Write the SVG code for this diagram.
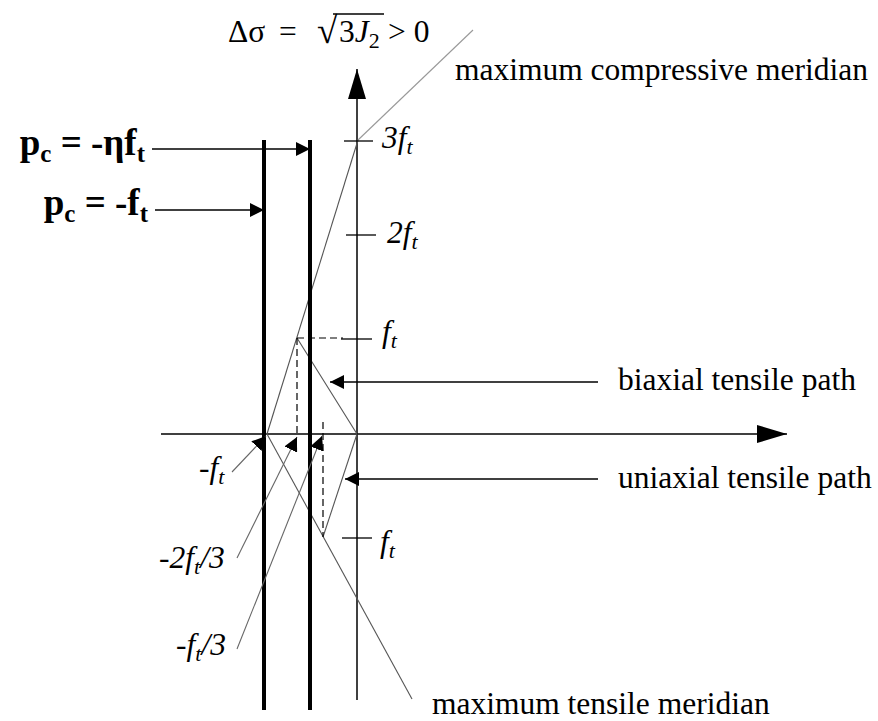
<svg xmlns="http://www.w3.org/2000/svg" width="878" height="721" viewBox="0 0 878 721">
<defs>
<style>
.t{font-family:"Liberation Serif","Times New Roman",serif;font-size:31.5px;fill:#000}
.i{font-style:italic}
.b{font-family:"Liberation Serif","Times New Roman",serif;font-weight:bold;font-size:37px;fill:#000}
.ax{stroke:#000;stroke-width:1.5;fill:none}
.thick{stroke:#000;stroke-width:4;fill:none}
.mer{stroke:#555;stroke-width:1.1;fill:none}
.mer2{stroke:#999;stroke-width:1.1;fill:none}
.lead{stroke:#666;stroke-width:1.1;fill:none}
.dash{stroke:#000;stroke-width:1.2;stroke-dasharray:7 4;fill:none}
.tick{stroke:#000;stroke-width:1.3;fill:none}
</style>
<marker id="big" markerUnits="userSpaceOnUse" markerWidth="30" markerHeight="18" refX="30" refY="9" orient="auto"><path d="M0,0 L30,9 L0,18 z" fill="#000"/></marker>
<marker id="sm" markerUnits="userSpaceOnUse" markerWidth="14" markerHeight="14" refX="14" refY="7" orient="auto"><path d="M0,0 L14,7 L0,14 z" fill="#000"/></marker>
</defs>
<rect width="878" height="721" fill="#fff"/>

<g id="connectors">
<line class="ax" x1="357" y1="700" x2="357" y2="69" marker-end="url(#big)"/>
<line class="ax" x1="161" y1="434" x2="787" y2="434" marker-end="url(#big)"/>
<line class="mer2" x1="358" y1="140" x2="473" y2="30"/>
<line class="mer" x1="358" y1="140" x2="267" y2="434"/>
<line class="mer" x1="267" y1="434" x2="412" y2="699"/>
<line class="mer" x1="297" y1="338" x2="357" y2="434"/>
<line class="mer" x1="357" y1="434" x2="323" y2="537"/>
<line class="dash" x1="297" y1="338" x2="343" y2="338"/>
<line class="dash" x1="297" y1="338" x2="297" y2="436"/>
<line class="dash" x1="323" y1="422" x2="323" y2="537"/>
<line class="tick" x1="344" y1="141" x2="373" y2="141"/>
<line class="tick" x1="346" y1="235" x2="376" y2="235"/>
<line class="tick" x1="341" y1="339" x2="372" y2="339"/>
<line class="tick" x1="342" y1="538" x2="372" y2="538"/>
<line class="thick" x1="264" y1="140" x2="264" y2="710"/>
<line class="thick" x1="310" y1="140" x2="310" y2="710"/>
<line class="ax" x1="152" y1="149" x2="310" y2="149" marker-end="url(#sm)"/>
<line class="ax" x1="155" y1="210" x2="264" y2="210" marker-end="url(#sm)"/>
<line class="ax" x1="598" y1="382" x2="330" y2="382" marker-end="url(#sm)"/>
<line class="ax" x1="598" y1="479" x2="345" y2="479" marker-end="url(#sm)"/>
<line class="lead" x1="232" y1="472" x2="266" y2="436" marker-end="url(#sm)"/>
<line class="lead" x1="237" y1="558" x2="297" y2="437" marker-end="url(#sm)"/>
<line class="lead" x1="237" y1="649" x2="322" y2="436" marker-end="url(#sm)"/>
<line stroke="#000" stroke-width="1.3" x1="333" y1="14" x2="384" y2="14"/>
</g>

<g id="title">
<text class="t" x="228" y="42">Δσ</text>
<text class="t" x="279" y="42">=</text>
<text class="t" x="317" y="43" style="font-size:37px">√</text>
<text class="t" x="339" y="42">3<tspan class="i">J</tspan><tspan font-size="22" dy="6">2</tspan></text>
<text class="t" x="388" y="42">&gt; 0</text>
</g>

<g id="pc-eta"><text class="b" x="145" y="155" text-anchor="end">p<tspan font-size="25" dy="7">c</tspan><tspan dy="-7"> = -ηf</tspan><tspan font-size="25" dy="7">t</tspan></text></g>
<g id="pc-ft"><text class="b" x="148" y="215" text-anchor="end">p<tspan font-size="25" dy="7">c</tspan><tspan dy="-7"> = -f</tspan><tspan font-size="25" dy="7">t</tspan></text></g>

<g id="lbl-3ft"><text class="t i" x="382" y="148">3f<tspan font-size="22" dy="6">t</tspan></text></g>
<g id="lbl-2ft"><text class="t i" x="387" y="243">2f<tspan font-size="22" dy="6">t</tspan></text></g>
<g id="lbl-ft-up"><text class="t i" x="382" y="342">f<tspan font-size="22" dy="6">t</tspan></text></g>
<g id="lbl-ft-low"><text class="t i" x="380" y="552">f<tspan font-size="22" dy="6">t</tspan></text></g>
<g id="lbl-mft"><text class="t i" x="199" y="478">-f<tspan font-size="22" dy="6">t</tspan></text></g>
<g id="lbl-2ft3"><text class="t i" x="159" y="568">-2f<tspan font-size="22" dy="6">t</tspan><tspan dy="-6">/3</tspan></text></g>
<g id="lbl-ft3"><text class="t i" x="176" y="655">-f<tspan font-size="22" dy="6">t</tspan><tspan dy="-6">/3</tspan></text></g>

<g id="lbl-comp"><text class="t" x="455" y="80">maximum compressive meridian</text></g>
<g id="lbl-biax"><text class="t" x="618" y="390">biaxial tensile path</text></g>
<g id="lbl-uniax"><text class="t" x="618" y="488">uniaxial tensile path</text></g>
<g id="lbl-tens"><text class="t" x="432" y="714">maximum tensile meridian</text></g>
</svg>
